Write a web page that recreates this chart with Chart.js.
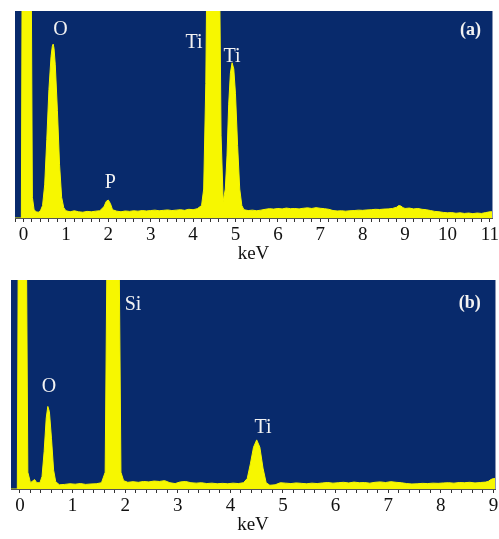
<!DOCTYPE html>
<html>
<head>
<meta charset="utf-8">
<script src="https://cdn.jsdelivr.net/npm/chart.js@4/dist/chart.umd.min.js"></script>
<style>
  body { margin: 0; background: #fff; }
  #wrapA { position: absolute; left: 0; top: 0; }
  #wrapB { position: absolute; left: 0; top: 268px; }
</style>
</head>
<body>
<div id="wrapA"><canvas id="chartA" width="499" height="268"></canvas></div>
<div id="wrapB"><canvas id="chartB" width="499" height="271"></canvas></div>
<script>
// panel (a) spectrum: energy (keV) and counts (% of plot height, >100 is off-scale)
const energyA = [-0.2, -0.05, -0.03, 0.18, 0.21, 0.25, 0.3, 0.35, 0.4, 0.45, 0.5, 0.55, 0.6, 0.65, 0.68, 0.7, 0.72, 0.75, 0.8, 0.85, 0.9, 0.95,
  1.0, 1.1, 1.2, 1.3, 1.4, 1.5, 1.6, 1.7, 1.8, 1.9, 1.95, 2.0, 2.05, 2.1, 2.2, 2.3, 2.4, 2.5, 2.6, 2.7, 2.8, 2.9,
  3.0, 3.1, 3.2, 3.3, 3.4, 3.5, 3.6, 3.7, 3.8, 3.9, 4.0, 4.1, 4.2, 4.25, 4.3, 4.33, 4.62, 4.66, 4.71, 4.76, 4.8, 4.84, 4.88, 4.92, 4.96,
  5.0, 5.05, 5.1, 5.15, 5.2, 5.3, 5.4, 5.5, 5.6, 5.7, 5.8, 5.9, 6.0, 6.1, 6.2, 6.3, 6.4, 6.5, 6.6, 6.7, 6.8, 6.9,
  7.0, 7.1, 7.2, 7.3, 7.4, 7.5, 7.6, 7.7, 7.8, 7.9, 8.0, 8.1, 8.2, 8.3, 8.4, 8.5, 8.6, 8.7, 8.8, 8.85, 8.9, 8.95,
  9.0, 9.1, 9.2, 9.3, 9.4, 9.5, 9.6, 9.7, 9.8, 9.9, 10.0, 10.1, 10.2, 10.3, 10.4, 10.5, 10.6, 10.7, 10.8, 10.9, 11.0, 11.05];
const countsA = [0, 0, 130, 130, 10, 4, 3, 2.8, 3.5, 6, 16, 38, 62, 78, 83, 84, 82, 74, 52, 26, 10, 5,
  3.5, 3, 3.5, 3, 2.8, 3.2, 3, 3.3, 3.5, 5.5, 8, 8.7, 7, 4, 3.3, 3, 3.4, 3.2, 3.5, 3.3, 3.6, 3.4,
  3.6, 3.8, 3.5, 3.7, 3.9, 3.6, 3.8, 4, 3.7, 4.2, 4, 4.5, 6, 14, 65, 130, 130, 40, 8, 14, 30, 55, 70, 75, 72,
  60, 35, 14, 6, 4, 3.6, 3.8, 3.5, 3.8, 4.2, 4.5, 4.3, 4.6, 4.4, 4.8, 4.5, 4.6, 4.4, 4.7, 4.9, 4.6, 5,
  4.7, 4.5, 4.2, 3.6, 3.4, 3.5, 3.3, 3.5, 3.6, 3.8, 3.7, 3.9, 4, 4.2, 4.1, 4.3, 4.4, 4.6, 5.2, 6, 5.8, 5,
  4.6, 4.8, 4.4, 4.6, 4.2, 4, 3.6, 3.2, 3, 2.7, 2.5, 2.6, 2.3, 2.5, 2.2, 2.4, 2.1, 2.4, 2.2, 2.6, 3, 3];

// panel (b) spectrum
const energyB = [-0.17, -0.05, -0.03, 0.12, 0.15, 0.2, 0.25, 0.28, 0.32, 0.38, 0.42, 0.46, 0.5, 0.53, 0.56, 0.6, 0.64, 0.68, 0.75, 0.85, 0.95,
  1.05, 1.15, 1.25, 1.35, 1.45, 1.55, 1.62, 1.66, 1.88, 1.92, 1.97, 2.05, 2.15, 2.25, 2.35, 2.45, 2.55, 2.65, 2.75, 2.85, 2.95,
  3.05, 3.15, 3.25, 3.35, 3.45, 3.55, 3.65, 3.75, 3.85, 3.95, 4.05, 4.15, 4.25, 4.32, 4.38, 4.44, 4.5, 4.56, 4.62, 4.68, 4.75, 4.85, 4.95,
  5.05, 5.15, 5.25, 5.35, 5.45, 5.55, 5.65, 5.75, 5.85, 5.95, 6.05, 6.15, 6.25, 6.35, 6.45, 6.55, 6.65, 6.75, 6.85, 6.95,
  7.05, 7.15, 7.25, 7.35, 7.45, 7.55, 7.65, 7.75, 7.85, 7.95, 8.05, 8.15, 8.25, 8.35, 8.45, 8.55, 8.65, 8.75, 8.85, 8.9, 8.95, 9.0, 9.03];
const countsB = [0, 0, 130, 130, 8, 3, 4, 4.5, 3, 3, 6, 18, 34, 39.5, 37, 24, 9, 3.5, 2, 2.2, 2.5,
  2.3, 2.6, 2.2, 2.4, 2.5, 3, 8, 130, 130, 8, 4, 3.2, 3.5, 3.2, 3.6, 3.4, 3.8, 3.6, 4, 3, 2.6,
  3.4, 3.6, 3, 2.8, 3, 2.6, 2.8, 2.5, 2.7, 2.5, 2.8, 2.6, 3, 5, 12, 20, 23.5, 20, 10, 3, 1.8, 2, 3,
  2.8, 2.6, 2.9, 2.7, 2.5, 2.8, 2.6, 2.9, 3.1, 2.8, 3, 3.2, 2.9, 3.3, 3, 3.1, 2.8, 3.2, 3.4, 3.1,
  3.5, 3.2, 3, 2.6, 2.4, 2.5, 2.7, 2.6, 2.8, 2.7, 2.9, 3, 2.8, 3.1, 3, 3.2, 2.9, 3.1, 3.3, 3.6, 4.5, 5, 5];

// tick labels and peak labels
const tickLabelsA = ['0', '1', '2', '3', '4', '5', '6', '7', '8', '9', '10', '11'];
const tickLabelsB = ['0', '1', '2', '3', '4', '5', '6', '7', '8', '9'];
const peakTextA = ['O', 'P', 'Ti', 'Ti', '(a)'];
const peakKevA = [0.87, 2.05, 4.02, 4.92, 10.54];
const peakLevelA = [90.8, 16.9, 84.5, 77.8, 90.8];
const peakTextB = ['Si', 'O', 'Ti', '(b)'];
const peakKevB = [2.15, 0.55, 4.62, 8.55];
const peakLevelB = [88, 48.8, 29.5, 89];

const NAVY = '#082a6c';
const YELLOW = '#f7f700';
const MINOR_STEP = 0.2;

const areaBg = {
  id: 'areaBg',
  beforeDraw(chart) {
    const { ctx, chartArea: a } = chart;
    ctx.save();
    ctx.fillStyle = NAVY;
    ctx.fillRect(a.left, a.top, a.right - a.left, a.bottom - a.top);
    ctx.restore();
  },
  afterDraw(chart) {
    const { ctx, chartArea: a } = chart;
    ctx.save();
    ctx.strokeStyle = '#8a96b4';
    ctx.lineWidth = 1;
    ctx.beginPath();
    ctx.moveTo(a.right + 0.5, a.top);
    ctx.lineTo(a.right + 0.5, a.bottom);
    ctx.stroke();
    ctx.restore();
  }
};

const peakLabels = {
  id: 'peakLabels',
  afterDatasetsDraw(chart, args, opts) {
    const { ctx } = chart;
    const xs = chart.scales.x, ys = chart.scales.y;
    ctx.save();
    ctx.fillStyle = '#f2f2f2';
    ctx.textAlign = 'center';
    ctx.textBaseline = 'middle';
    opts.text.forEach((t, i) => {
      const bold = t.startsWith('(');
      ctx.font = (bold ? 'bold 18px' : '20px') + ' "Liberation Serif", serif';
      ctx.fillText(t, xs.getPixelForValue(opts.kev[i]), ys.getPixelForValue(opts.level[i]));
    });
    ctx.restore();
  }
};

function makeChart(id, energy, counts, labels, xMin, xMax, pad, text, kev, level) {
  const points = energy.map((e, i) => ({ x: e, y: counts[i] }));
  return new Chart(document.getElementById(id), {
    type: 'line',
    data: {
      datasets: [{
        data: points,
        borderColor: YELLOW,
        backgroundColor: YELLOW,
        borderWidth: 1,
        pointRadius: 0,
        fill: 'origin',
        tension: 0
      }]
    },
    options: {
      responsive: false,
      animation: false,
      layout: { padding: pad },
      plugins: {
        legend: { display: false },
        tooltip: { enabled: false },
        peakLabels: { text, kev, level }
      },
      scales: {
        x: {
          type: 'linear',
          min: xMin,
          max: xMax,
          border: { color: '#555', width: 1 },
          grid: { drawOnChartArea: false, tickLength: 4, color: '#333' },
          afterBuildTicks: axis => {
            const ticks = [];
            for (let k = Math.ceil(xMin / MINOR_STEP); k * MINOR_STEP <= xMax + 1e-9; k++) {
              ticks.push({ value: Math.round(k * MINOR_STEP * 10) / 10 });
            }
            axis.ticks = ticks;
          },
          ticks: {
            autoSkip: false,
            maxRotation: 0,
            padding: 2,
            color: '#111',
            font: { family: '"Liberation Serif", serif', size: 19 },
            callback: v => {
              const r = Math.round(v);
              return Math.abs(v - r) < 1e-6 && r >= 0 ? labels[r] : '';
            }
          },
          title: {
            display: true,
            text: 'keV',
            color: '#111',
            font: { family: '"Liberation Serif", serif', size: 19 },
            padding: { top: 0, bottom: 3 }
          },
          afterFit: axis => {
            axis.height = 50;
            axis.paddingLeft = 0;
            axis.paddingRight = 0;
          }
        },
        y: { display: false, min: 0, max: 100 }
      }
    },
    plugins: [areaBg, peakLabels]
  });
}

makeChart('chartA', energyA, countsA, tickLabelsA, -0.2, 11.05,
  { left: 15, right: 7, top: 11, bottom: 0 }, peakTextA, peakKevA, peakLevelA);
makeChart('chartB', energyB, countsB, tickLabelsB, -0.17, 9.03,
  { left: 11, right: 4, top: 12, bottom: 0 }, peakTextB, peakKevB, peakLevelB);
</script>
</body>
</html>
